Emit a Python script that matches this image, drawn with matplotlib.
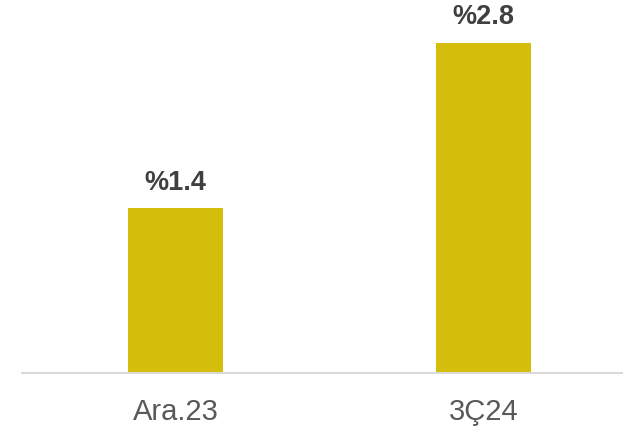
import matplotlib.pyplot as plt

# period labels and ratio values (%)
periods = ['Ara.23', '3Ç24']
values = [1.4, 2.8]
value_labels = ['%1.4', '%2.8']

plt.rcParams['font.family'] = ['Liberation Sans', 'DejaVu Sans']

fig = plt.figure(figsize=(6.23, 4.27), dpi=100)
ax = fig.add_axes([22 / 623, 53 / 427, 601 / 623, 374 / 427])

x = list(range(len(periods)))
bars = ax.bar(x, values, width=0.31, color='#D4BD0B', zorder=2)

for rect, lab in zip(bars, value_labels):
    ax.annotate(lab, (rect.get_x() + rect.get_width() / 2, rect.get_height()),
                xytext=(0, 9.5), textcoords='offset points',
                ha='center', va='bottom', fontsize=19.5, fontweight='bold',
                color='#404040', annotation_clip=False)

ax.set_xlim(-0.5, 1.454)
ax.set_ylim(0, 3.17)
ax.set_xticks(x)
ax.set_xticklabels(periods, fontsize=21, color='#595959')
ax.tick_params(axis='x', length=0, pad=17)
ax.set_yticks([])

for side in ['top', 'right', 'left']:
    ax.spines[side].set_visible(False)
ax.spines['bottom'].set_color('#D9D9D9')
ax.spines['bottom'].set_linewidth(1.5)

fig.savefig('out.png', dpi=100)
